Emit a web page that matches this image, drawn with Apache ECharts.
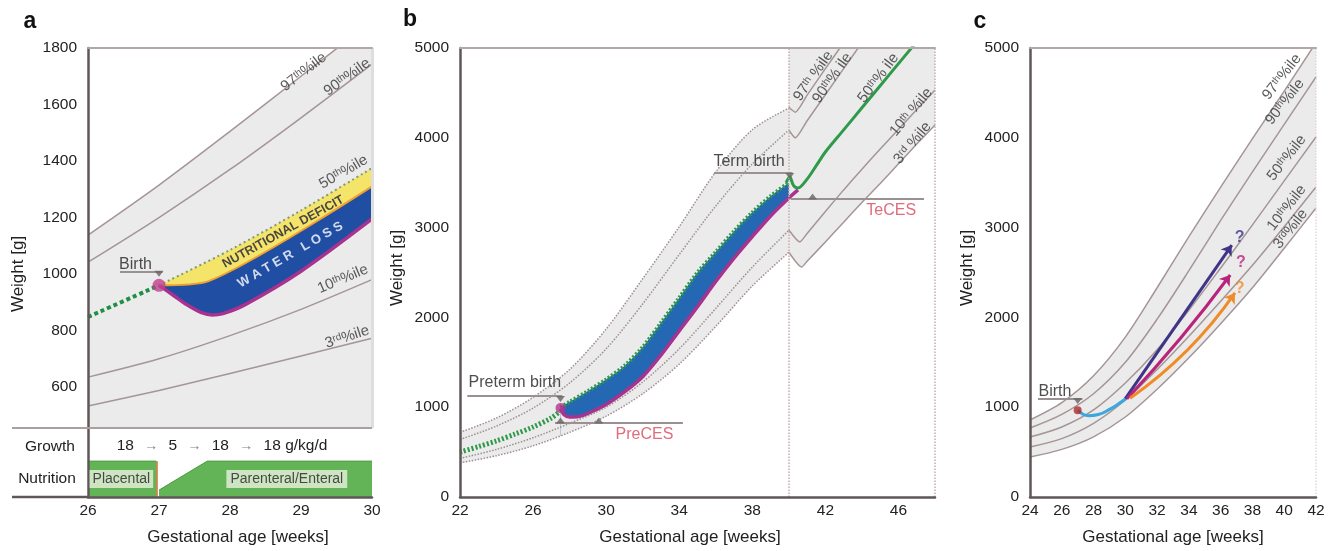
<!DOCTYPE html>
<html>
<head>
<meta charset="utf-8">
<title>Weight charts</title>
<script src="https://cdn.jsdelivr.net/npm/echarts@6.0.0/dist/echarts.min.js"></script>
<style>
  html, body { margin: 0; padding: 0; background: #fff; }
  #main { width: 1333px; height: 551px; }
</style>
</head>
<body>
<div id="main"></div>
<script>
// panel a: weeks 26-30
const aWeeks = [26, 27, 28, 29, 30]
const aP97 = [1138, 1315, 1505, 1700, 1895]
const aP90 = [1042, 1200, 1370, 1553, 1743]
const aP50 = [848, 960, 1085, 1225, 1375]
const aP10 = [635, 700, 782, 875, 980]
const aP3 = [533, 588, 648, 710, 773]
const aBirth = [27, 960]
const aLossTop = [[27, 960], [27.7, 975], [30, 1310]]
const aLossBottom = [[27, 960], [27.2, 925], [27.4, 890], [27.6, 863], [27.75, 855], [27.9, 860], [28.2, 890], [29, 1010], [30, 1195]]
const aPlacental = [[26, 0.52], [26.96, 0.52]]
const aParenteral = [[27.0, 0.1], [27.68, 0.52], [30, 0.52]]
const aTicksX = [26, 27, 28, 29, 30]
const aTicksY = [600, 800, 1000, 1200, 1400, 1600, 1800]

// panel b: Fenton 22-40, WHO 40-48
const bWeeks = [22, 24, 26, 28, 30, 32, 34, 36, 38, 40]
const bF97 = [720, 880, 1110, 1420, 1870, 2430, 3010, 3620, 4090, 4330]
const bF90 = [640, 790, 990, 1270, 1650, 2150, 2700, 3240, 3710, 4085]
const bF10 = [430, 530, 660, 820, 1000, 1280, 1650, 2100, 2560, 2970]
const bF3 = [380, 460, 570, 720, 900, 1150, 1480, 1900, 2350, 2725]
const bW97 = [[40, 4340], [40.35, 4285], [41, 4475], [42, 4770], [43, 5060]]
const bW90 = [[40, 4087], [40.35, 4000], [41, 4190], [42, 4480], [43, 4770], [44, 5060]]
const bW50 = [[39.85, 3500], [40.05, 3565], [40.25, 3470], [40.5, 3440], [41, 3540], [41.5, 3690], [42, 3842], [43, 4088], [44, 4334], [45, 4580], [46, 4826], [47, 5070]]
const bW10 = [[40, 2973], [40.6, 2840], [41, 2935], [42, 3180], [43, 3420], [44, 3650], [45, 3875], [46, 4095], [47, 4315], [48, 4532]]
const bW3 = [[40, 2725], [40.7, 2561], [41, 2625], [42, 2840], [43, 3060], [44, 3280], [45, 3490], [46, 3710], [47, 3930], [48, 4142]]
const bFetal = [[22, 500], [23, 560], [24, 625], [25, 700], [26, 780], [27, 880], [27.45, 950]]
const bBirth = [27.5, 990]
const bGainTop = [[27.5, 1000], [28, 1060], [29, 1180], [30, 1310], [31, 1460], [32, 1670], [33, 1940], [34, 2220], [35, 2500], [36, 2730], [37, 2960], [38, 3170], [39, 3350], [40, 3500]]
const bGainBottom = [[27.5, 985], [27.7, 915], [28, 890], [28.5, 895], [29, 930], [30, 1030], [31, 1170], [32, 1340], [33, 1580], [34, 1850], [35, 2120], [36, 2400], [37, 2660], [38, 2900], [39, 3130], [40, 3330], [40.5, 3420]]
const bTicksX = [22, 26, 30, 34, 38, 42, 46]
const bTicksY = [0, 1000, 2000, 3000, 4000, 5000]

// panel c: weeks 24-42
const cWeeks = [24, 26, 28, 30, 32, 34, 36, 38, 40, 42]
const cP97 = [857, 1050, 1350, 1780, 2330, 2900, 3450, 3990, 4520, 5060]
const cP90 = [768, 920, 1150, 1500, 1980, 2520, 3080, 3620, 4150, 4677]
const cP50 = [668, 780, 970, 1270, 1640, 2080, 2550, 3030, 3520, 4009]
const cP10 = [557, 650, 820, 1080, 1420, 1790, 2180, 2580, 3010, 3452]
const cP3 = [445, 530, 670, 891, 1200, 1550, 1930, 2330, 2770, 3218]
const cBirth = [27.0, 965]
const cEarly = [[27.0, 965], [27.3, 925], [27.7, 905], [28.3, 918], [29, 975], [29.6, 1040], [30.1, 1105]]
const cArrowHigh = [[30.0, 1095], [36.7, 2806]]
const cArrowMid = [[30.1, 1095], [36.6, 2472]]
const cArrowLow = [[30.3, 1100], [36.9, 2272]]
const cTicksX = [24, 26, 28, 30, 32, 34, 36, 38, 40, 42]
const cTicksY = [0, 1000, 2000, 3000, 4000, 5000]

const FONT = '"Liberation Sans", Arial, sans-serif'
const GREY = '#ebebeb'
const PCT = '#a59595'
const MAG = '#a8328f'
const GREEN = '#2e9a4a'
const DARK = '#5f5757'
// [xAxisIndex, yAxisIndex] for each plot area
const AX = { a: [0, 0], n: [2, 1], b: [3, 2], c: [5, 3] }

function zip (xs, ys) { return xs.map((x, i) => [x, ys[i]]) }

function line (p, data, opt) {
  return Object.assign({
    type: 'line',
    xAxisIndex: AX[p][0],
    yAxisIndex: AX[p][1],
    data: data,
    symbol: 'none',
    smooth: 0.3,
    silent: true,
    lineStyle: { color: PCT, width: 1.5 }
  }, opt)
}

function fill (p, data, color, opt) {
  return line(p, data, Object.assign({
    lineStyle: { opacity: 0 },
    areaStyle: { color: color, opacity: 1, origin: 'start' }
  }, opt))
}

function note (p, pos, text, opt) {
  return {
    type: 'scatter',
    xAxisIndex: AX[p][0],
    yAxisIndex: AX[p][1],
    data: [pos],
    symbolSize: 1,
    itemStyle: { color: 'rgba(0,0,0,0)' },
    silent: true,
    z: 10,
    label: Object.assign({
      show: true, position: 'inside', formatter: text,
      color: '#222', fontSize: 15, fontFamily: FONT
    }, opt)
  }
}

function tri (p, pts, up) {
  return {
    type: 'scatter',
    xAxisIndex: AX[p][0],
    yAxisIndex: AX[p][1],
    data: pts,
    symbol: 'triangle',
    symbolSize: [9, 6],
    symbolRotate: up ? 0 : 180,
    itemStyle: { color: '#6b6262' },
    silent: true,
    z: 6
  }
}

function callout (p, x1, x2, y) {
  return line(p, [[x1, y], [x2, y]], { smooth: false, lineStyle: { color: '#9a9292', width: 2 }, z: 6 })
}

const rich = {
  n: { fontSize: 15, color: '#333', fontFamily: FONT },
  s: { fontSize: 10, color: '#333', fontFamily: FONT, verticalAlign: 'top' }
}
function pct (p, pos, num, suf, rest, rot) {
  return note(p, pos, '{n|' + num + '}{s|' + suf + '}{n|' + rest + '}', { rotate: rot, rich: rich })
}

function arrow (coords, color, curve) {
  return {
    type: 'lines',
    coordinateSystem: 'cartesian2d',
    xAxisIndex: 5,
    yAxisIndex: 3,
    silent: true,
    z: 5,
    symbol: ['none', 'arrow'],
    symbolSize: 10,
    lineStyle: { color: color, width: 3, opacity: 1, curveness: curve },
    data: [{ coords: coords }]
  }
}

const plain = v => String(v)

function bottomAxis (g, min, max, ticks) {
  return {
    gridIndex: g, type: 'value', min: min, max: max, z: 5,
    axisLine: { onZero: false, lineStyle: { color: DARK, width: 2.5 } },
    axisTick: { show: false },
    splitLine: { show: false },
    axisLabel: { customValues: ticks, formatter: plain, margin: 6, color: '#222', fontSize: 15.5, fontFamily: FONT }
  }
}
function topAxis (g, min, max) {
  return {
    gridIndex: g, type: 'value', position: 'top', min: min, max: max, z: 5,
    axisLine: { onZero: false, lineStyle: { color: '#b2a6a6', width: 2 } },
    axisTick: { show: false },
    splitLine: { show: false },
    axisLabel: { show: false }
  }
}
function leftAxis (g, min, max, ticks) {
  return {
    gridIndex: g, type: 'value', min: min, max: max, z: 5,
    axisLine: { onZero: false, lineStyle: { color: DARK, width: 2.5 } },
    axisTick: { show: false },
    splitLine: { show: false },
    axisLabel: ticks
      ? { customValues: ticks, formatter: plain, margin: 11, color: '#222', fontSize: 15.5, fontFamily: FONT }
      : { show: false }
  }
}

function txt (x, y, text, opt) {
  return Object.assign({
    type: 'text', x: x, y: y, silent: true,
    style: Object.assign({
      text: text, fill: '#222', font: '17px ' + FONT,
      align: 'center', verticalAlign: 'middle',
      textAlign: 'center', textVerticalAlign: 'middle'
    }, opt && opt.style)
  }, opt && opt.el)
}

const series = [
  // ---------- panel a ----------
  fill('a', zip(aWeeks, aP97), GREY, {
    markLine: { silent: true, symbol: 'none', label: { show: false }, lineStyle: { color: '#dedede', type: 'solid', width: 3 }, data: [{ xAxis: 30 }] }
  }),
  fill('a', zip(aWeeks, aP50).slice(1), '#f5e46a'),
  line('a', aLossTop, { smooth: 0.25, lineStyle: { color: '#f0a030', width: 2 }, areaStyle: { color: '#1f4ea3', opacity: 1, origin: 'start' } }),
  line('a', aLossBottom, { smooth: 0.3, lineStyle: { color: MAG, width: 3.5 }, areaStyle: { color: GREY, opacity: 1, origin: 'start' } }),
  line('a', zip(aWeeks, aP97)),
  line('a', zip(aWeeks, aP90)),
  line('a', zip(aWeeks, aP10)),
  line('a', zip(aWeeks, aP3)),
  line('a', zip(aWeeks, aP50).slice(0, 2), { lineStyle: { color: '#1e8f45', width: 4, type: [4, 3] } }),
  line('a', zip(aWeeks, aP50).slice(1), { lineStyle: { color: '#7f9a78', width: 2, type: [2, 3] } }),
  { type: 'scatter', xAxisIndex: 0, yAxisIndex: 0, data: [aBirth], symbolSize: 13, itemStyle: { color: '#c0408f' }, silent: true, z: 7 },
  callout('a', 26.45, 27.05, 1007),
  tri('a', [[27.0, 1001]], false),
  note('a', [26.67, 1035], 'Birth', { fontSize: 16 }),
  pct('a', [29.04, 1715], '97', 'th', '%ile', 38),
  pct('a', [29.65, 1697], '90', 'th', '%ile', 36),
  pct('a', [29.6, 1361], '50', 'th', '%ile', 30),
  pct('a', [29.59, 982], '10', 'th', '%ile', 23),
  pct('a', [29.65, 777], '3', 'rd', '%ile', 18),
  note('a', [28.75, 1149], 'NUTRITIONAL DEFICIT', { rotate: 29, fontWeight: 'bold', fontSize: 12.5, color: '#1c1c3a' }),
  note('a', [28.85, 1068], 'W A T E R   L O S S', { rotate: 30, fontWeight: 'bold', fontSize: 13, color: '#ffffff' }),

  // nutrition strip
  fill('n', aPlacental, '#63b456', { smooth: false, lineStyle: { color: '#4e9b42', width: 1 } }),
  fill('n', aParenteral, '#63b456', { smooth: false, lineStyle: { color: '#4e9b42', width: 1 } }),
  line('n', [[26.97, 0], [26.97, 0.52]], { smooth: false, lineStyle: { color: '#c8884e', width: 2 } }),
  note('n', [26.47, 0.26], 'Placental', { fontSize: 14, backgroundColor: '#e8f1df', padding: [2, 3] }),
  note('n', [28.8, 0.26], 'Parenteral/Enteral', { fontSize: 14, backgroundColor: '#e8f1df', padding: [2, 4] }),

  // ---------- panel b ----------
  fill('b', zip(bWeeks, bF97), GREY),
  fill('b', [[40, 5000], [48, 5000]], GREY),
  fill('b', bGainTop, '#2467b2'),
  line('b', bGainBottom, { lineStyle: { color: MAG, width: 3.5 }, areaStyle: { color: GREY, opacity: 1, origin: 'start' } }),
  fill('b', zip(bWeeks, bF3), '#ffffff'),
  fill('b', bW3, '#ffffff', { smooth: 0.2 }),
  line('b', [], {
    z: 3,
    markLine: { silent: true, symbol: 'none', label: { show: false }, lineStyle: { color: '#c9abab', type: 'dotted', width: 1.5 }, data: [{ xAxis: 40 }, { xAxis: 48 }] }
  }),
  line('b', zip(bWeeks, bF97), { lineStyle: { color: '#a08f8f', width: 1.5, type: 'dotted' } }),
  line('b', zip(bWeeks, bF90), { lineStyle: { color: '#a08f8f', width: 1.5, type: 'dotted' } }),
  line('b', zip(bWeeks, bF10), { lineStyle: { color: '#a08f8f', width: 1.5, type: 'dotted' } }),
  line('b', zip(bWeeks, bF3), { lineStyle: { color: '#a08f8f', width: 1.5, type: 'dotted' } }),
  line('b', bW97, { smooth: 0.2 }),
  line('b', bW90, { smooth: 0.2 }),
  line('b', bW10, { smooth: 0.2 }),
  line('b', bW3, { smooth: 0.2 }),
  line('b', bFetal, { lineStyle: { color: GREEN, width: 5, type: [2, 2] } }),
  line('b', bGainTop, { lineStyle: { color: GREEN, width: 4, type: [2, 2] } }),
  line('b', bW50, { smooth: 0.3, lineStyle: { color: GREEN, width: 3 } }),
  { type: 'scatter', xAxisIndex: 3, yAxisIndex: 2, data: [bBirth], symbolSize: 10, itemStyle: { color: '#b0358f' }, silent: true, z: 7 },
  callout('b', 22.4, 27.6, 1125),
  tri('b', [[27.5, 1092]], false),
  note('b', [25.0, 1272], 'Preterm birth', { fontSize: 16 }),
  callout('b', 35.9, 40.2, 3608),
  tri('b', [[40.05, 3575]], false),
  note('b', [37.82, 3735], 'Term birth', { fontSize: 16 }),
  callout('b', 27.2, 34.2, 824),
  tri('b', [[27.5, 852], [29.6, 852]], true),
  note('b', [32.1, 700], 'PreCES', { color: '#d6475c', fontSize: 16 }),
  callout('b', 40.1, 47.4, 3318),
  tri('b', [[41.3, 3346]], true),
  note('b', [45.6, 3185], 'TeCES', { color: '#d6475c', fontSize: 16 }),
  pct('b', [41.34, 4688], '97', 'th', ' %ile', 55),
  pct('b', [42.38, 4666], '90', 'th', '% ile', 55),
  pct('b', [44.9, 4666], '50', 'th', '% ile', 53),
  pct('b', [46.7, 4287], '10', 'th', ' %ile', 50),
  pct('b', [46.77, 3942], '3', 'rd', ' %ile', 50),

  // ---------- panel c ----------
  fill('c', zip(cWeeks, cP97), GREY, {
    markLine: { silent: true, symbol: 'none', label: { show: false }, lineStyle: { color: '#e2dada', type: 'dotted', width: 1.5 }, data: [{ xAxis: 42 }] }
  }),
  fill('c', zip(cWeeks, cP3), '#ffffff'),
  line('c', zip(cWeeks, cP97)),
  line('c', zip(cWeeks, cP90)),
  line('c', zip(cWeeks, cP50)),
  line('c', zip(cWeeks, cP10)),
  line('c', zip(cWeeks, cP3)),
  line('c', cEarly, { smooth: 0.5, lineStyle: { color: '#3aa8df', width: 3 }, z: 4 }),
  arrow(cArrowHigh, '#3f3487', 0),
  arrow(cArrowMid, '#b8247c', -0.03),
  arrow(cArrowLow, '#f08c28', -0.09),
  { type: 'scatter', xAxisIndex: 5, yAxisIndex: 3, data: [cBirth], symbolSize: 8, itemStyle: { color: '#b02a2a' }, silent: true, z: 7 },
  callout('c', 24.5, 27.3, 1091),
  tri('c', [[27.0, 1069]], false),
  note('c', [25.57, 1172], 'Birth', { fontSize: 16 }),
  note('c', [37.2, 2884], '?', { color: '#3f3487', fontWeight: 'bold', fontSize: 16 }),
  note('c', [37.27, 2606], '?', { color: '#b8247c', fontWeight: 'bold', fontSize: 16 }),
  note('c', [37.2, 2316], '?', { color: '#f08c28', fontWeight: 'bold', fontSize: 16 }),
  pct('c', [39.85, 4677], '97', 'th', '%ile', 52),
  pct('c', [40.04, 4399], '90', 'th', '%ile', 52),
  pct('c', [40.16, 3775], '50', 'th', '%ile', 52),
  pct('c', [40.16, 3218], '10', 'th', '%ile', 52),
  pct('c', [40.4, 2984], '3', 'rd', '%ile', 52)
]

const chart = echarts.init(document.getElementById('main'))
chart.setOption({
  animation: false,
  backgroundColor: '#ffffff',
  textStyle: { fontFamily: FONT },
  grid: [
    { left: 88, top: 48, width: 284, height: 380 },
    { left: 88, top: 428, width: 284, height: 69 },
    { left: 460, top: 48, width: 475, height: 449 },
    { left: 1030, top: 48, width: 286, height: 449 }
  ],
  xAxis: [
    { gridIndex: 0, type: 'value', min: 26, max: 30, show: false },
    topAxis(0, 26, 30),
    bottomAxis(1, 26, 30, aTicksX),
    bottomAxis(2, 22, 48, bTicksX),
    topAxis(2, 22, 48),
    bottomAxis(3, 24, 42, cTicksX),
    topAxis(3, 24, 42)
  ],
  yAxis: [
    leftAxis(0, 455, 1800, aTicksY),
    leftAxis(1, 0, 1, null),
    leftAxis(2, 0, 5000, bTicksY),
    leftAxis(3, 0, 5000, cTicksY)
  ],
  series: series,
  graphic: [
    txt(30, 22, 'a', { style: { font: 'bold 23px ' + FONT, fill: '#111' } }),
    txt(410, 20, 'b', { style: { font: 'bold 23px ' + FONT, fill: '#111' } }),
    txt(980, 22, 'c', { style: { font: 'bold 23px ' + FONT, fill: '#111' } }),
    txt(18, 274, 'Weight [g]', { el: { rotation: Math.PI / 2 } }),
    txt(397, 268, 'Weight [g]', { el: { rotation: Math.PI / 2 } }),
    txt(967, 268, 'Weight [g]', { el: { rotation: Math.PI / 2 } }),
    txt(238, 537, 'Gestational age [weeks]'),
    txt(690, 537, 'Gestational age [weeks]'),
    txt(1173, 537, 'Gestational age [weeks]'),
    { type: 'line', silent: true, z: 10, shape: { x1: 12, y1: 428, x2: 372, y2: 428 }, style: { stroke: '#ab9f9f', lineWidth: 2 } },
    { type: 'line', silent: true, z: 10, shape: { x1: 12, y1: 497, x2: 88, y2: 497 }, style: { stroke: DARK, lineWidth: 2.5 } },
    txt(50, 447, 'Growth', { style: { font: '15.5px ' + FONT } }),
    txt(47, 479, 'Nutrition', { style: { font: '15.5px ' + FONT } }),
    txt(222, 446, '18 {a|\u2192} 5 {a|\u2192} 18 {a|\u2192} 18 g/kg/d', {
      style: { font: '15.5px ' + FONT, rich: { a: { fill: '#8a8080', color: '#8a8080', fontSize: 14, padding: [0, 6] } } }
    }),
    txt(632, 474, 'Intrauterine charts\nFenton', { style: { font: '15px ' + FONT, lineHeight: 19 } }),
    txt(862, 476, 'Postnatal charts\nWHO', { style: { font: '15px ' + FONT, lineHeight: 19 } })
  ]
})
</script>
</body>
</html>
